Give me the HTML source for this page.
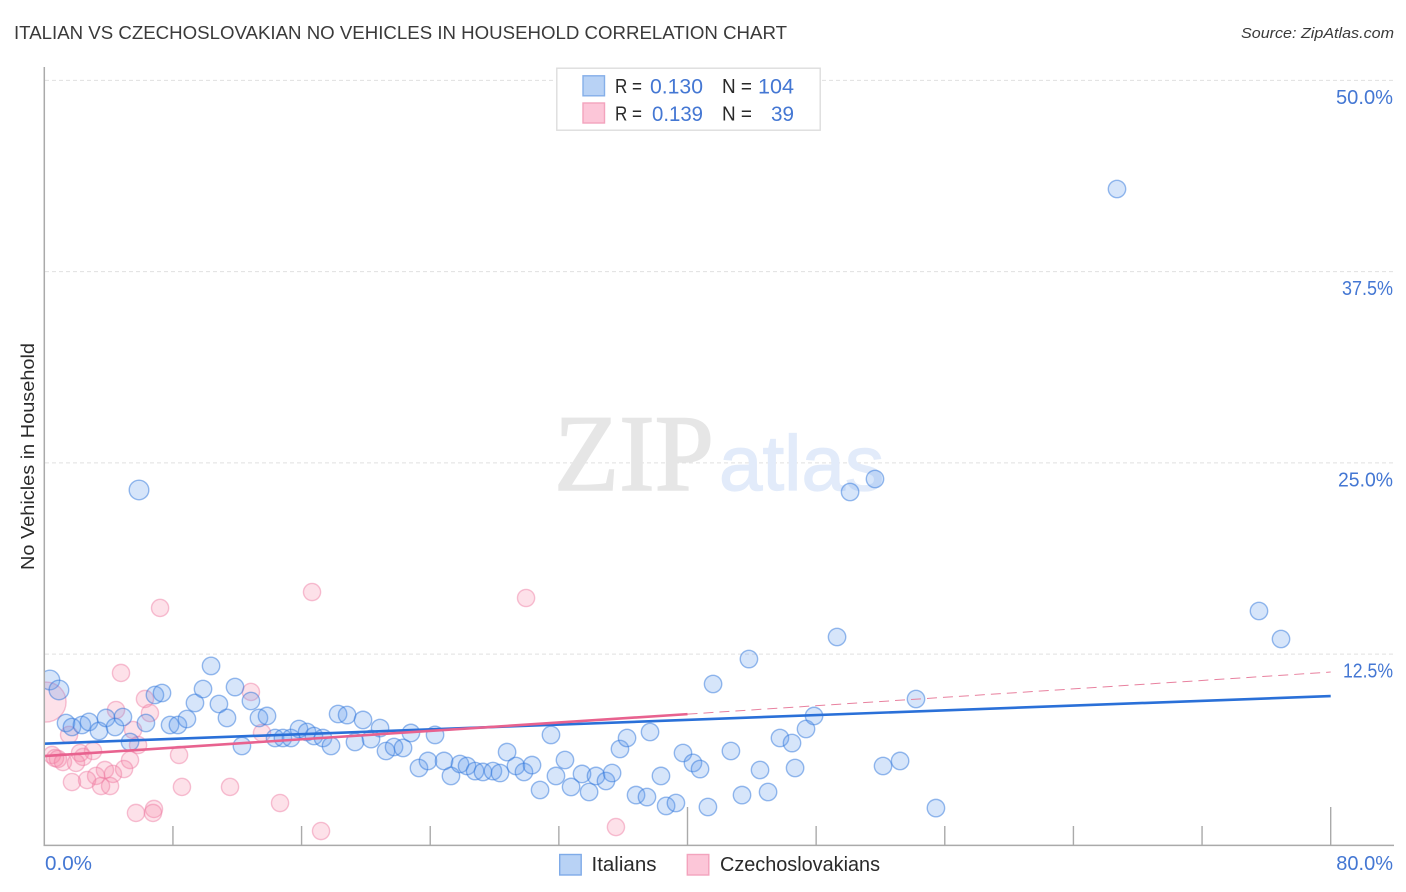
<!DOCTYPE html>
<html lang="en">
<head>
<meta charset="utf-8">
<title>Italian vs Czechoslovakian No Vehicles in Household Correlation Chart</title>
<style>
html,body{margin:0;padding:0;background:#fff;width:1406px;height:892px;overflow:hidden}
svg{display:block;font-family:"Liberation Sans",sans-serif}
</style>
</head>
<body>
<svg id="chart" xmlns="http://www.w3.org/2000/svg" width="1406" height="892" viewBox="0 0 1406 892">
  <defs><clipPath id="plot-clip"><rect x="44.3" y="60" width="1350" height="785.4"/></clipPath></defs>
  <text x="14" y="39" font-size="18.5" fill="#3a3a3a" textLength="773" lengthAdjust="spacingAndGlyphs">ITALIAN VS CZECHOSLOVAKIAN NO VEHICLES IN HOUSEHOLD CORRELATION CHART</text>
  <text x="1241" y="38" font-size="15" font-style="italic" fill="#3a3a3a" textLength="153" lengthAdjust="spacingAndGlyphs">Source: ZipAtlas.com</text>
  <g id="grid"></g>
  <g>
    <text x="554" y="490" font-family="'Liberation Serif',serif" font-size="109" fill="#e6e6e6" stroke="#e6e6e6" stroke-width="1.6" textLength="160" lengthAdjust="spacingAndGlyphs">ZIP</text>
    <text x="719" y="490" font-size="78" fill="#e2ebfa" stroke="#e2ebfa" stroke-width="1.2" textLength="165" lengthAdjust="spacingAndGlyphs">atlas</text>
  </g>
  <g id="pink-points" clip-path="url(#plot-clip)"></g>
  <g id="blue-points" clip-path="url(#plot-clip)"></g>
  <g id="trends"></g>
  <g id="axes">
    <line x1="44.3" y1="67" x2="44.3" y2="846" stroke="#aaa" stroke-width="1.5"/>
    <line x1="43.5" y1="845.4" x2="1394" y2="845.4" stroke="#aaa" stroke-width="1.5"/>
  </g>
  <g id="y-labels"></g>
  <text x="45" y="870" font-size="20" fill="#4477d3" textLength="47" lengthAdjust="spacingAndGlyphs">0.0%</text>
  <text x="1393" y="870" font-size="20" fill="#4477d3" text-anchor="end">80.0%</text>
  <text transform="translate(34,456.5) rotate(-90)" font-size="18.5" fill="#2a2a2a" text-anchor="middle" textLength="227" lengthAdjust="spacingAndGlyphs">No Vehicles in Household</text>

  <g>
    <rect x="556.8" y="68.2" width="263.4" height="62" fill="#fff" stroke="#ddd" stroke-width="1.4"/>
    <rect x="583" y="75.8" width="21.5" height="20" fill="#b8d2f5" stroke="#85afe9" stroke-width="1.4"/>
    <rect x="583" y="103" width="21.5" height="20" fill="#fcc6d8" stroke="#f3a3bd" stroke-width="1.4"/>
    <g font-size="20.5" fill="#2a2a2a">
      <text x="615" y="93" textLength="27" lengthAdjust="spacingAndGlyphs">R =</text>
      <text x="722" y="93" textLength="30" lengthAdjust="spacingAndGlyphs">N =</text>
      <text x="615" y="120.5" textLength="27" lengthAdjust="spacingAndGlyphs">R =</text>
      <text x="722" y="120.5" textLength="30" lengthAdjust="spacingAndGlyphs">N =</text>
    </g>
    <g font-size="21.5" fill="#4477d3">
      <text x="650" y="93.5" textLength="53" lengthAdjust="spacingAndGlyphs">0.130</text>
      <text x="758" y="93.5" textLength="36" lengthAdjust="spacingAndGlyphs">104</text>
      <text x="652" y="121" textLength="51" lengthAdjust="spacingAndGlyphs">0.139</text>
      <text x="771" y="121" textLength="23" lengthAdjust="spacingAndGlyphs">39</text>
    </g>
  </g>

  <g>
    <rect x="559.7" y="854.5" width="21.5" height="20.5" fill="#b8d2f5" stroke="#7fabe8" stroke-width="1.4"/>
    <text x="591.5" y="871" font-size="20" fill="#2a2a2a" textLength="65" lengthAdjust="spacingAndGlyphs">Italians</text>
    <rect x="687.3" y="854.5" width="21.5" height="20.5" fill="#fcc6d8" stroke="#f3a3bd" stroke-width="1.4"/>
    <text x="720" y="871" font-size="20" fill="#2a2a2a" textLength="160" lengthAdjust="spacingAndGlyphs">Czechoslovakians</text>
  </g>
</svg>
<script>
const yTicks = [12.5, 25, 37.5, 50];
const yTickLabels = ['12.5%', '25.0%', '37.5%', '50.0%'];
const xTicks = [8, 16, 24, 32, 40, 48, 56, 64, 72, 80];
const xMajorTicks = [40, 80];

const italianX = [0.35,0.91,1.35,1.72,2.34,2.78,3.40,3.84,4.40,4.89,5.33,6.32,6.88,7.32,7.82,8.31,8.87,9.37,9.87,10.37,10.86,11.36,11.86,12.29,12.85,13.35,13.85,14.35,14.84,15.34,15.84,16.34,16.77,17.33,17.83,18.27,18.83,19.32,19.82,20.32,20.88,21.25,21.75,22.31,22.80,23.30,23.86,24.30,24.86,25.29,25.85,26.29,26.79,27.28,27.90,28.34,28.78,29.33,29.83,30.33,30.83,31.51,31.82,32.38,32.76,33.44,33.88,34.31,34.93,35.31,35.80,36.24,36.80,37.48,37.67,38.67,38.35,39.28,39.72,40.34,40.78,41.27,41.59,42.70,43.39,43.82,44.51,45.01,45.75,46.50,46.69,47.37,47.87,49.30,52.16,53.22,54.21,55.45,5.89,50.11,51.66,66.71,75.54,76.91];
const italianY = [10.81,10.16,8.00,7.74,7.87,8.07,7.48,8.33,7.74,8.39,6.76,8.00,9.83,9.96,7.87,7.87,8.26,9.31,10.22,11.73,9.24,8.33,10.35,6.50,9.44,8.33,8.46,7.02,7.02,7.02,7.61,7.41,7.15,7.02,6.50,8.59,8.52,6.76,8.20,6.95,7.67,6.17,6.43,6.37,7.35,5.06,5.52,7.22,5.52,4.54,5.32,5.19,4.86,4.80,4.86,4.73,6.10,5.19,4.80,5.25,3.62,7.22,4.54,5.58,3.82,4.67,3.49,4.54,4.21,4.73,6.30,7.02,3.29,3.16,7.41,2.58,4.54,2.77,6.04,5.39,4.99,2.51,10.55,6.17,3.29,12.18,4.93,3.49,7.02,6.69,5.06,7.61,8.46,13.62,5.19,5.52,9.57,2.44,23.23,23.10,23.95,42.90,15.32,13.49];
const italianLargeSamples = [0, 1, 98];

const czechX = [0.11,4.77,6.26,12.85,4.46,6.57,5.52,1.54,13.54,5.83,2.22,3.03,2.41,0.48,0.67,0.85,1.16,1.97,5.33,8.38,4.96,3.77,4.27,3.22,2.66,1.72,3.53,4.09,8.56,11.55,14.66,17.21,5.70,6.82,6.76,7.20,16.65,29.96,35.55];
const czechY = [9.37,11.27,9.57,10.03,8.85,8.65,7.54,7.22,7.35,6.56,6.04,6.17,5.78,5.91,5.71,5.65,5.45,5.39,5.58,5.91,4.99,4.93,4.67,4.54,4.27,4.14,3.88,3.88,3.82,3.82,2.77,0.94,2.12,2.38,2.12,15.52,16.56,16.17,1.20];
const czechHugeSamples = [0];

const italianTrendX = [0, 80];
const italianTrendY = [6.65, 9.76];
const czechTrendX = [0, 40];
const czechTrendY = [5.84, 8.58];
const czechProjectionX = [40, 80];
const czechProjectionY = [8.58, 11.33];

const SVGNS = 'http://www.w3.org/2000/svg';
function xScale(v) { return 44.3 + v * 16.08; }
function yScale(v) { return 845.4 - v * 15.3; }
function make(tag, parentId) {
  const el = document.createElementNS(SVGNS, tag);
  document.getElementById(parentId).appendChild(el);
  return el;
}
/* narrower rendered width of labels whose digits include a 1 or 7 in the reference's proportional face */
function labelFit(text) {
  return 57 - (text.match(/1/g) || []).length * 5 - (text.match(/7/g) || []).length * 3 - (text.match(/3/g) || []).length * 3 - (text.match(/2/g) || []).length * 2;
}

yTicks.forEach(function (t, i) {
  const line = make('line', 'grid');
  
  
  line.setAttribute('x1', 45);
  line.setAttribute('x2', 1394);
  line.setAttribute('y1', yScale(t));
  line.setAttribute('y2', yScale(t));
  line.setAttribute('stroke', '#e0e0e0');
  line.setAttribute('stroke-width', '1');
  line.setAttribute('stroke-dasharray', '4 3');

  const label = make('text', 'y-labels');
  
  
  label.setAttribute('x', 1393);
  label.setAttribute('y', yScale(t) + 23.5);
  label.setAttribute('font-size', '20');
  label.setAttribute('fill', '#4477d3');
  label.setAttribute('text-anchor', 'end');
  label.setAttribute('textLength', labelFit(yTickLabels[i]));
  label.setAttribute('lengthAdjust', 'spacingAndGlyphs');
  label.textContent = yTickLabels[i];
});

xTicks.forEach(function (t) {
  const tick = make('line', 'axes');
  
  
  tick.setAttribute('x1', xScale(t));
  tick.setAttribute('x2', xScale(t));
  tick.setAttribute('y1', 845.4);
  tick.setAttribute('y2', xMajorTicks.indexOf(t) >= 0 ? 807 : 826);
  tick.setAttribute('stroke', '#aaa');
  tick.setAttribute('stroke-width', '1.4');
});

czechX.forEach(function (v, i) {
  const c = make('circle', 'pink-points');
  
  
  c.setAttribute('cx', xScale(v));
  c.setAttribute('cy', yScale(czechY[i]));
  c.setAttribute('r', czechHugeSamples.indexOf(i) >= 0 ? 20 : 8.6);
  c.setAttribute('fill', 'rgba(245,130,165,0.24)');
  c.setAttribute('stroke', 'rgba(238,120,160,0.45)');
  c.setAttribute('stroke-width', '1.4');
});

italianX.forEach(function (v, i) {
  const c = make('circle', 'blue-points');
  
  
  c.setAttribute('cx', xScale(v));
  c.setAttribute('cy', yScale(italianY[i]));
  c.setAttribute('r', italianLargeSamples.indexOf(i) >= 0 ? 9.8 : 8.7);
  c.setAttribute('fill', 'rgba(95,155,235,0.26)');
  c.setAttribute('stroke', 'rgba(50,120,220,0.5)');
  c.setAttribute('stroke-width', '1.4');
});

const blueTrend = make('line', 'trends');


blueTrend.setAttribute('x1', xScale(italianTrendX[0]));
blueTrend.setAttribute('y1', yScale(italianTrendY[0]));
blueTrend.setAttribute('x2', xScale(italianTrendX[1]));
blueTrend.setAttribute('y2', yScale(italianTrendY[1]));
blueTrend.setAttribute('stroke', '#2a70d8');
blueTrend.setAttribute('stroke-width', '2.6');

const pinkProjection = make('line', 'trends');


pinkProjection.setAttribute('x1', xScale(czechProjectionX[0]));
pinkProjection.setAttribute('y1', yScale(czechProjectionY[0]));
pinkProjection.setAttribute('x2', xScale(czechProjectionX[1]));
pinkProjection.setAttribute('y2', yScale(czechProjectionY[1]));
pinkProjection.setAttribute('stroke', '#e8819f');
pinkProjection.setAttribute('stroke-width', '1');
pinkProjection.setAttribute('stroke-dasharray', '10 6');

const pinkTrend = make('line', 'trends');


pinkTrend.setAttribute('x1', xScale(czechTrendX[0]));
pinkTrend.setAttribute('y1', yScale(czechTrendY[0]));
pinkTrend.setAttribute('x2', xScale(czechTrendX[1]));
pinkTrend.setAttribute('y2', yScale(czechTrendY[1]));
pinkTrend.setAttribute('stroke', '#e8628f');
pinkTrend.setAttribute('stroke-width', '2.6');
</script>
</body>
</html>
